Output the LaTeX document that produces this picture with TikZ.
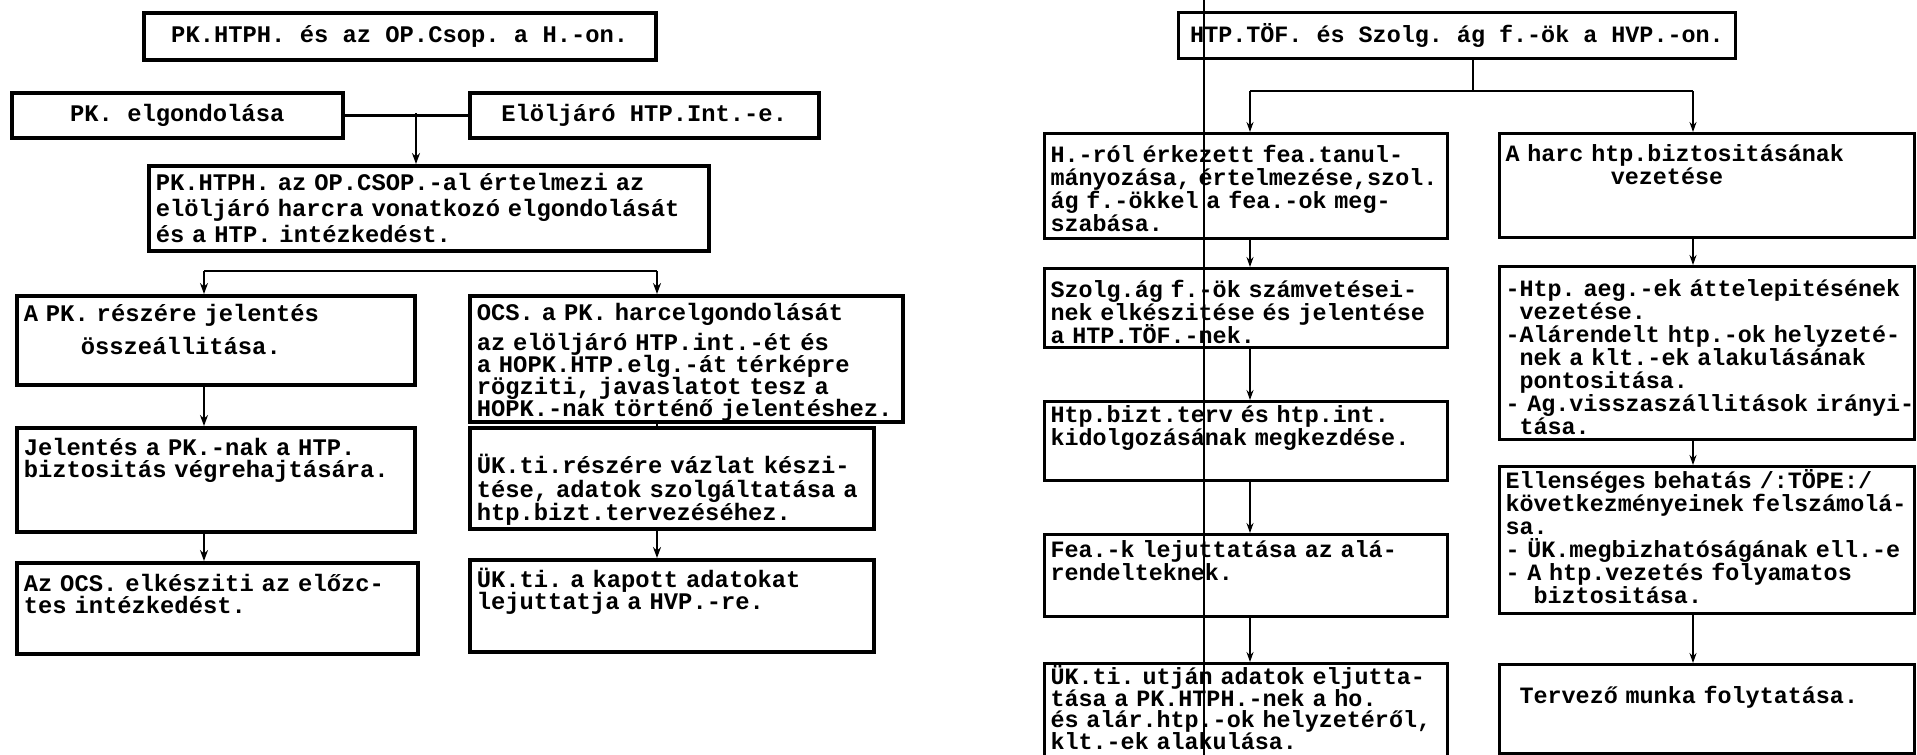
\documentclass[tikz,border=0pt]{standalone}
\usepackage{fontspec}
\newfontfamily\irogep{Liberation Mono}[WordSpace={1,0,0}]
\usetikzlibrary{arrows.meta}

\tikzset{
  doboz/.style={draw, line width=3.5pt, anchor=north west, inner xsep=7pt, inner ysep=0pt,
    align=left, execute at begin node={\lineskiplimit=-30pt},
    font=\irogep\bfseries\fontsize{23.8pt}{22pt}\selectfont\frenchspacing},
  fejdoboz/.style={doboz, align=center},
  jdoboz/.style={doboz, line width=3pt, inner xsep=6pt,
    font=\irogep\bfseries\fontsize{23.4pt}{23pt}\selectfont\frenchspacing},
  jfejdoboz/.style={jdoboz, align=center},
  vonal/.style={line width=2.6pt},
  nyil/.style={vonal, -{Stealth[length=11pt,width=8pt]}},
  jvonal/.style={line width=2.2pt},
  jnyil/.style={jvonal, -{Stealth[length=10pt,width=7pt]}},
}

\begin{document}
\begin{tikzpicture}[x=1pt, y=-1pt]
  \fill[white] (0,0) rectangle (1917,755);
  \useasboundingbox (0,0) rectangle (1917,755);

  % Bal oldal: PK.HTPH.
  \node[fejdoboz, minimum width=512pt, minimum height=47pt] (cim1) at (142,11) {PK.HTPH. és az OP.Csop. a H.-on.};
  \node[fejdoboz, minimum width=331pt, minimum height=45pt] (pk) at (10,91) {PK. elgondolása};
  \node[fejdoboz, minimum width=349pt, minimum height=45pt] (elo) at (468,91) {Elöljáró HTP.Int.-e.};
  \node[doboz, text width=546pt, text height=25pt, text depth=60pt] (ert) at (147,164)
    {\mbox{PK.HTPH. az OP.CSOP.-al értelmezi az}\\[4pt]\mbox{elöljáró harcra vonatkozó elgondolását}\\[4pt]és a HTP. intézkedést.};

  \node[doboz, text width=384pt, text height=26pt, text depth=63pt] (apk) at (15,294)
    {A PK. részére jelentés\\[11pt]\hspace*{2.4em}összeállitása.};
  \node[doboz, text width=384pt, text height=28pt, text depth=76pt] (jel) at (15,426)
    {Jelentés a PK.-nak a HTP.\\biztositás végrehajtására.};
  \node[doboz, text width=387pt, text height=29pt, text depth=62pt] (azocs) at (15,561)
    {\mbox{Az OCS. elkésziti az előzc-}\\tes intézkedést.};

  \node[doboz, text width=419pt, text height=25pt, text depth=101pt] (ocs) at (468,294)
    {OCS. a PK. harcelgondolását\\[8pt]az elöljáró HTP.int.-ét és\\a HOPK.HTP.elg.-át térképre\\rögziti, javaslatot tesz a\\\mbox{HOPK.-nak történő jelentéshez.}};
  \node[doboz, text width=390pt, text height=46pt, text depth=55pt] (uk1) at (468,426)
    {\mbox{ÜK.ti.részére vázlat készi-}\\[1.5pt]\mbox{tése, adatok szolgáltatása a}\\[1.5pt]htp.bizt.tervezéséhez.};
  \node[doboz, text width=390pt, text height=28pt, text depth=64pt] (uk2) at (468,558)
    {ÜK.ti. a kapott adatokat\\lejuttatja a HVP.-re.};

  % Bal oldal: nyilak
  \coordinate (e1) at (416,113);
  \draw[vonal] (pk.east) -- (elo.west);
  \draw[nyil] (e1) -- (e1 |- ert.north);
  \coordinate (ag1) at (204,271);
  \coordinate (ag2) at (657,271);
  \draw[vonal] (ag1) -- (ag2);
  \draw[nyil] (ag1) -- (ag1 |- apk.north);
  \draw[nyil] (ag2) -- (ag2 |- ocs.north);
  \foreach \a/\b in {apk/jel, jel/azocs}
    \draw[nyil] (\a.south -| ag1) -- (\b.north -| ag1);
  \draw[vonal] (ocs.south -| ag2) -- (uk1.north -| ag2);
  \draw[nyil] (uk1.south -| ag2) -- (uk2.north -| ag2);

  % Jobb oldal: HTP.TÖF.
  \node[jfejdoboz, minimum width=557pt, minimum height=46pt] (cim2) at (1177,11) {HTP.TÖF. és Szolg. ág f.-ök a HVP.-on.};

  \node[jdoboz, text width=391pt, text height=29pt, text depth=76pt] (a1) at (1043,132)
    {H.-ról érkezett fea.tanul-\\\mbox{mányozása, értelmezése,szol.}\\ág f.-ökkel a fea.-ok meg-\\szabása.};
  \node[jdoboz, text width=391pt, text height=29pt, text depth=50pt] (a2) at (1043,267)
    {Szolg.ág f.-ök számvetései-\\\mbox{nek elkészitése és jelentése}\\a HTP.TÖF.-nek.};
  \node[jdoboz, text width=391pt, text height=21pt, text depth=58pt] (a3) at (1043,400)
    {Htp.bizt.terv és htp.int.\\kidolgozásának megkezdése.};
  \node[jdoboz, text width=391pt, text height=23pt, text depth=59pt] (a4) at (1043,533)
    {Fea.-k lejuttatása az alá-\\rendelteknek.};
  \node[jdoboz, text width=391pt, text height=21pt, text depth=82pt] (a5) at (1043,662)
    {\mbox{ÜK.ti. utján adatok eljutta-}\\[-1.5pt]tása a PK.HTPH.-nek a ho.\\[-1.5pt]\mbox{és alár.htp.-ok helyzetéről,}\\[-1.5pt]klt.-ek alakulása.};

  \node[jdoboz, text width=403pt, text height=28pt, text depth=76pt] (b1) at (1498,132)
    {A harc htp.biztositásának\\\hspace*{4.5em}vezetése};
  \node[jdoboz, text width=403pt, text height=30pt, text depth=143pt] (b2) at (1498,265)
    {\mbox{-Htp. aeg.-ek áttelepitésének}\\\hspace*{0.6em}vezetése.\\\mbox{-Alárendelt htp.-ok helyzeté-}\\\hspace*{0.6em}nek a klt.-ek alakulásának\\\hspace*{0.6em}pontositása.\\\mbox{- Ag.visszaszállitások irányi-}\\\hspace*{0.6em}tása.};
  \node[jdoboz, text width=403pt, text height=22pt, text depth=125pt] (b3) at (1498,465)
    {Ellenséges behatás /:TÖPE:/\\\mbox{következményeinek felszámolá-}\\sa.\\\mbox{- ÜK.megbizhatóságának ell.-e}\\- A htp.vezetés folyamatos\\\hspace*{1.2em}biztositása.};
  \node[jdoboz, text width=403pt, text height=39pt, text depth=50pt] (b4) at (1498,663)
    {\hspace*{0.6em}Tervező munka folytatása.};

  % Jobb oldal: nyilak
  \coordinate (e2) at (1473,91);
  \coordinate (ag3) at (1250,91);
  \coordinate (ag4) at (1693,91);
  \draw[jvonal] (e2 |- cim2.south) -- (e2);
  \draw[jvonal] (ag3) -- (ag4);
  \draw[jnyil] (ag3) -- (ag3 |- a1.north);
  \draw[jnyil] (ag4) -- (ag4 |- b1.north);
  \foreach \a/\b in {a1/a2, a2/a3, a3/a4, a4/a5}
    \draw[jnyil] (\a.south -| ag3) -- (\b.north -| ag3);
  \foreach \a/\b in {b1/b2, b2/b3, b3/b4}
    \draw[jnyil] (\a.south -| ag4) -- (\b.north -| ag4);

  % Függőleges vonal
  \draw[line width=1.5pt] (1204,0) -- (1204,755);
\end{tikzpicture}
\end{document}
